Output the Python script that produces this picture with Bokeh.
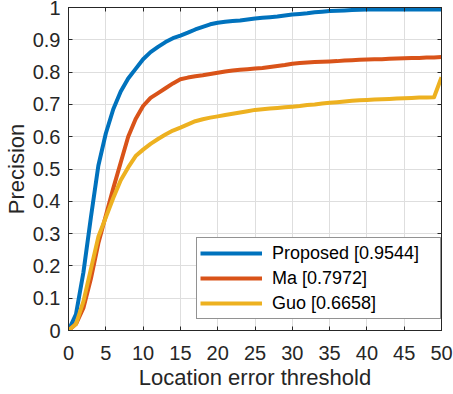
from bokeh.plotting import figure
from bokeh.models import Range1d, FixedTicker, LinearAxis, CustomJSTickFormatter
from bokeh.embed import file_html
from bokeh.resources import INLINE

thresholds = list(range(0, 51))

proposed = [0.0, 0.05, 0.18, 0.35, 0.51, 0.61, 0.685, 0.74, 0.78, 0.81,
            0.84, 0.862, 0.878, 0.893, 0.905, 0.913, 0.922, 0.932, 0.940, 0.948,
            0.953, 0.956, 0.958, 0.960, 0.963, 0.966, 0.968, 0.970, 0.972, 0.975,
            0.978, 0.980, 0.982, 0.985, 0.987, 0.989, 0.990, 0.991, 0.992, 0.993,
            0.994, 0.994, 0.994, 0.994, 0.994, 0.994, 0.994, 0.994, 0.994, 0.994,
            0.994]

ma = [0.0, 0.02, 0.07, 0.16, 0.27, 0.355, 0.44, 0.52, 0.60, 0.655,
      0.695, 0.72, 0.735, 0.75, 0.765, 0.778, 0.783, 0.787, 0.790, 0.794,
      0.798, 0.802, 0.805, 0.807, 0.809, 0.811, 0.813, 0.816, 0.819, 0.822,
      0.826, 0.828, 0.830, 0.831, 0.832, 0.833, 0.834, 0.836, 0.837, 0.838,
      0.839, 0.840, 0.840, 0.841, 0.842, 0.843, 0.844, 0.844, 0.845, 0.845,
      0.847]

guo = [0.0, 0.02, 0.09, 0.19, 0.29, 0.35, 0.41, 0.465, 0.505, 0.54,
       0.56, 0.578, 0.593, 0.607, 0.619, 0.628, 0.638, 0.648, 0.654, 0.659,
       0.663, 0.667, 0.671, 0.675, 0.679, 0.683, 0.685, 0.687, 0.689, 0.691,
       0.693, 0.695, 0.698, 0.700, 0.703, 0.705, 0.707, 0.709, 0.711, 0.713,
       0.714, 0.715, 0.716, 0.717, 0.718, 0.719, 0.720, 0.721, 0.721, 0.722,
       0.784]

series_names = ["Proposed [0.9544]", "Ma [0.7972]", "Guo [0.6658]"]
series_colors = ["#0072BD", "#D95319", "#EDB120"]

x_ticks = [0, 5, 10, 15, 20, 25, 30, 35, 40, 45, 50]
y_ticks = [0, 0.1, 0.2, 0.3, 0.4, 0.5, 0.6, 0.7, 0.8, 0.9, 1]

FONT = "Liberation Sans"
DARK = "#262626"

p = figure(width=453, height=394, output_backend="svg", toolbar_location=None,
           x_range=Range1d(0, 50), y_range=Range1d(0, 1),
           min_border_left=68, min_border_right=12, min_border_top=7,
           min_border_bottom=64, x_axis_label="Location error threshold",
           y_axis_label="Precision")
p.background_fill_color = "white"
p.border_fill_color = "white"
p.outline_line_color = DARK
p.outline_line_width = 1

for ys, name, col in zip([proposed, ma, guo], series_names, series_colors):
    p.line(thresholds, ys, line_color=col, line_width=4, line_join="round",
           legend_label=name)

for ax in (p.xaxis[0], p.yaxis[0]):
    ax.axis_line_color = DARK
    ax.major_tick_line_color = DARK
    ax.major_tick_in = 4
    ax.major_tick_out = 0
    ax.minor_tick_line_color = None
    ax.major_label_text_font = FONT
    ax.major_label_text_font_size = "20px"
    ax.major_label_text_color = DARK
    ax.axis_label_text_font = FONT
    ax.axis_label_text_font_size = "22px"
    ax.axis_label_text_font_style = "normal"
    ax.axis_label_text_color = DARK
    ax.axis_label_text_line_height = 0.9

p.xaxis[0].ticker = FixedTicker(ticks=x_ticks)
p.yaxis[0].ticker = FixedTicker(ticks=y_ticks)
p.yaxis[0].major_label_overrides = {0: "0", 1: "1"}
p.xaxis[0].major_label_standoff = 15
p.xaxis[0].axis_label_standoff = 2
p.yaxis[0].major_label_standoff = 8
p.yaxis[0].axis_label_standoff = 1

blank = CustomJSTickFormatter(code="return '';")
top = LinearAxis(ticker=FixedTicker(ticks=x_ticks), formatter=blank,
                 major_tick_in=4, major_tick_out=0, minor_tick_line_color=None,
                 axis_line_color=DARK, major_tick_line_color=DARK, major_label_standoff=0)
right = LinearAxis(ticker=FixedTicker(ticks=y_ticks), formatter=blank,
                   major_tick_in=4, major_tick_out=0, minor_tick_line_color=None,
                   axis_line_color=DARK, major_tick_line_color=DARK, major_label_standoff=0)
p.add_layout(top, "above")
p.add_layout(right, "right")

p.xgrid.ticker = FixedTicker(ticks=x_ticks)
p.ygrid.ticker = FixedTicker(ticks=y_ticks)
p.xgrid.grid_line_color = "#dedede"
p.ygrid.grid_line_color = "#dedede"

lg = p.legend[0]
lg.location = (128, 11)
lg.border_line_color = DARK
lg.border_line_width = 1
lg.background_fill_color = "white"
lg.background_fill_alpha = 1
lg.padding = 3
lg.spacing = 1
lg.margin = 0
lg.glyph_width = 62
lg.glyph_height = 24
lg.label_height = 24
lg.label_width = 165
lg.label_standoff = 10
lg.label_text_font = FONT
lg.label_text_font_size = "18px"
lg.label_text_color = "#000000"

open("out.html", "w").write(file_html(p, INLINE))
